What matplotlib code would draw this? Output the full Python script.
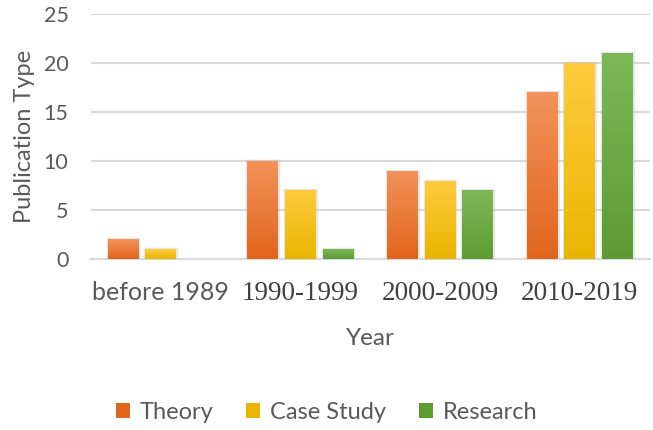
import numpy as np
import matplotlib
matplotlib.use("Agg")
import matplotlib.pyplot as plt
from matplotlib.colors import LinearSegmentedColormap
from matplotlib.patches import Patch

# Datos
categorias = ["before 1989", "1990-1999", "2000-2009", "2010-2019"]
theory = [2, 10, 9, 17]
case_study = [1, 7, 8, 20]
research = [0, 1, 7, 21]

series = ["Theory", "Case Study", "Research"]
# (color arriba, color abajo)
colores = [("#F3925A", "#E1651C"), ("#FFCB3D", "#E9B500"), ("#7DB857", "#5C9C32")]

plt.rcParams["font.family"] = ["Lato", "DejaVu Sans"]

fig = plt.figure(figsize=(6.53, 4.30), dpi=100)
ax = fig.add_axes([0.139, 0.398, 0.856, 0.569])

x = np.arange(len(categorias))
ancho = 0.22
paso = 0.27
grad = np.linspace(0, 1, 256).reshape(-1, 1)

for i, (nombre, valores) in enumerate(zip(series, [theory, case_study, research])):
    cmap = LinearSegmentedColormap.from_list(nombre, [colores[i][1], colores[i][0]])
    barras = ax.bar(x + (i - 1) * paso, valores, ancho, color=colores[i][1], zorder=3)
    for b in barras:
        if b.get_height() <= 0:
            continue
        bx, by = b.get_x(), b.get_y()
        w, h = b.get_width(), b.get_height()
        # sombra suave alrededor
        ax.bar(bx + w / 2, h, w, color="none", edgecolor="#BBBBBB",
               linewidth=2.5, alpha=0.35, zorder=2)
        img = ax.imshow(grad, cmap=cmap, origin="lower", aspect="auto",
                        extent=[bx, bx + w, by, by + h], zorder=4)
        img.set_clip_path(b)

ax.set_xlim(-0.5, len(categorias) - 0.5)
ax.set_ylim(0, 25)
ax.set_yticks(range(0, 26, 5))
ax.set_xticks(x)
etiquetas = ax.set_xticklabels(categorias, family="Liberation Serif", fontsize=19.5, color="#404040")
etiquetas[0].set_family(["Lato", "DejaVu Sans"])
etiquetas[0].set_fontsize(18)
etiquetas[0].set_color("#595959")
ax.tick_params(axis="y", labelsize=15.5, labelcolor="#595959", length=0, pad=16)
ax.tick_params(axis="x", length=0, pad=16)
ax.grid(axis="y", color="#D9D9D9", linewidth=1.5, zorder=0)
for lado in ["top", "right", "left"]:
    ax.spines[lado].set_visible(False)
ax.spines["bottom"].set_color("#D9D9D9")
ax.spines["bottom"].set_linewidth(1.5)

ax.set_xlabel("Year", fontsize=17.5, color="#595959", labelpad=16)
ax.set_ylabel("Publication Type", fontsize=17, color="#595959", labelpad=6)

manijas = [Patch(facecolor=colores[i][1], edgecolor="none") for i in range(3)]
fig.legend(manijas, series, loc="center", bbox_to_anchor=(0.5, 0.04), ncol=3,
           frameon=False, fontsize=17, labelcolor="#595959", handlelength=0.6,
           handleheight=0.6, handletextpad=0.4, columnspacing=1.4)

plt.savefig("out.png", dpi=100)
